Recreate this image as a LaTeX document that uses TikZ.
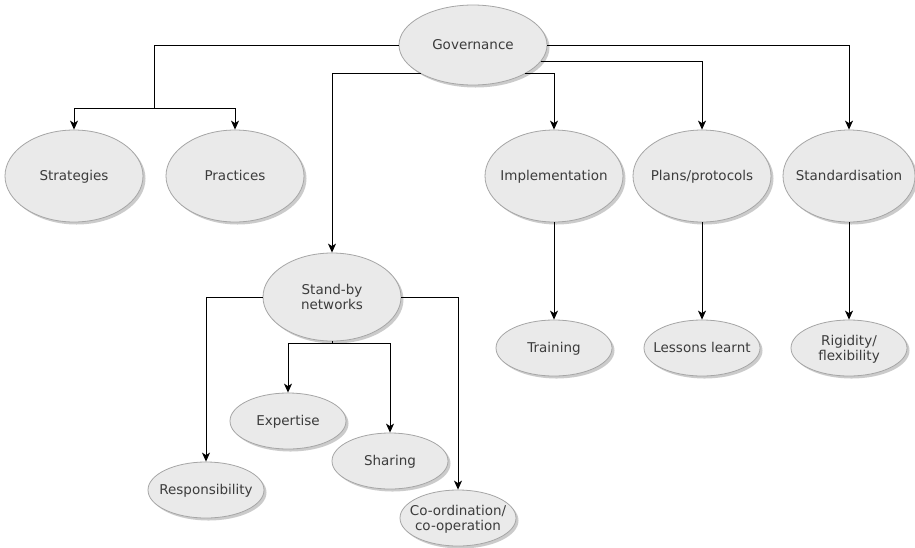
\documentclass[tikz,border=0pt]{standalone}
\usepackage{fontspec}
\setmainfont{DejaVu Sans}
\usetikzlibrary{shapes.geometric,arrows.meta,shadows}
\definecolor{efill}{HTML}{EAEAEA}
\definecolor{eborder}{HTML}{A6A6A6}
\definecolor{etext}{HTML}{3C3C3C}
\newcommand{\lbl}[1]{\makebox[0pt]{\raisebox{-5.5pt}[0pt][0pt]{\begin{tabular}{@{}c@{}}#1\end{tabular}}}}
\begin{document}
\begin{tikzpicture}[x=1pt,y=-1pt,
  bub/.style={ellipse, draw=eborder, fill=efill, line width=0.8pt, inner sep=0pt,
    text=etext, font=\fontsize{13.5}{15}\selectfont,
    drop shadow={shadow xshift=2.5pt, shadow yshift=-2.5pt, fill=black!40, opacity=0.5}},
  big/.style={bub, minimum width=138pt, minimum height=92pt},
  small/.style={bub, minimum width=116pt, minimum height=56pt},
  conn/.style={line width=1pt, draw=black},
  arr/.style={conn, -{Stealth[length=9pt,width=8pt,inset=2.5pt]}}]
\useasboundingbox (0,0) rectangle (915,547);
\fill[white] (0,0) rectangle (915,547);

\node[bub, minimum width=148pt, minimum height=80pt] (gov) at (473,45) {\lbl{Governance}};
\node[big] (strat) at (74,176) {\lbl{Strategies}};
\node[big] (prac) at (235,176) {\lbl{Practices}};
\node[big] (impl) at (554,176) {\lbl{Implementation}};
\node[big] (plans) at (702,176) {\lbl{Plans/protocols}};
\node[big, minimum width=132pt] (std) at (849,176) {\lbl{Standardisation}};
\node[bub, minimum width=138pt, minimum height=88pt] (sb) at (332,297) {\lbl{Stand-by\\networks}};
\node[small] (train) at (554,348) {\lbl{Training}};
\node[small] (lessons) at (702,348) {\lbl{Lessons learnt}};
\node[small] (rig) at (849,348) {\lbl{Rigidity/\\flexibility}};
\node[small] (exp) at (288,421) {\lbl{Expertise}};
\node[small] (shar) at (390,461) {\lbl{Sharing}};
\node[small] (resp) at (206,490) {\lbl{Responsibility}};
\node[small] (coop) at (458,518) {\lbl{Co-ordination/\\co-operation}};

\coordinate (j1) at (154,108);
\draw[conn] (gov.west) -| (j1);
\draw[arr] (j1) -| (strat.north);
\draw[arr] (j1) -| (prac.north);
\draw[arr] (gov.209) -| (sb.north);
\draw[arr] (gov.331) -| (impl.north);
\draw[arr] (gov.-14) -| (plans.north);
\draw[arr] (gov.east) -| (std.north);

\draw[arr] (impl.south) -- (train.north);
\draw[arr] (plans.south) -- (lessons.north);
\draw[arr] (std.south) -- (rig.north);

\draw[arr] (sb.west) -| (resp.north);
\draw[arr] (sb.east) -| (coop.north);
\coordinate (j2) at (332,343);
\draw[conn] (sb.south) -- (j2);
\draw[arr] (j2) -| (exp.north);
\draw[arr] (j2) -| (shar.north);
\end{tikzpicture}
\end{document}
